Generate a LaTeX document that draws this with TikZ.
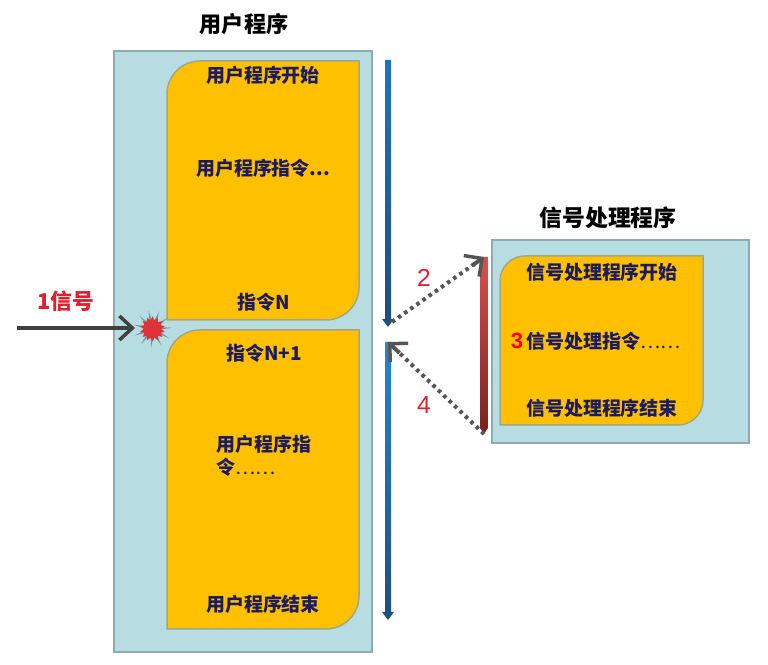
\documentclass[tikz,border=0pt]{standalone}
\usepackage{fontspec}
\usepackage{tkz-euclide}
\usetikzlibrary{arrows.meta,calc,shapes.geometric}
\setmainfont{Liberation Sans}
\newfontfamily\cjk{Noto Sans CJK SC}
\definecolor{panelblue}{HTML}{B7DDE3}
\definecolor{panelline}{HTML}{8FABB2}
\definecolor{progfill}{HTML}{FFC000}
\definecolor{progline}{HTML}{A3A585}
\definecolor{navytext}{HTML}{1B1B5E}
\definecolor{flowgray}{HTML}{555555}
\definecolor{lineblue}{HTML}{1F74B8}
\definecolor{linelight}{HTML}{2486CC}
\definecolor{linedark}{HTML}{1F4E79}
\definecolor{linered}{HTML}{D9504E}
\definecolor{linewine}{HTML}{772222}
\definecolor{labelred}{HTML}{E0202C}
\definecolor{burstred}{HTML}{DE3238}
\definecolor{burstspike}{HTML}{6F98A0}
\tikzset{
  panel/.style={draw=panelline,fill=panelblue,line width=0.012cm},
  progbox/.style={draw=progline,fill=progfill,line width=0.015cm},
  instr/.style={inner sep=0pt,text=navytext,font=\cjk\bfseries\fontsize{5.4}{6.5}\selectfont},
  heading/.style={inner sep=0pt,text=black,font=\cjk\bfseries\fontsize{6.3}{7.5}\selectfont},
  steplabel/.style={inner sep=0pt,text=labelred,font=\fontsize{7}{8}\selectfont},
  flowdots/.style={flowgray,line width=0.04cm,dash pattern=on 0.035cm off 0.04cm},
  flowtip/.style={-{Straight Barb[length=0.13cm,width=0.26cm,line width=0.035cm]},flowgray,line width=0.04cm},
}
\begin{document}
\begin{tikzpicture}[thick]
  \useasboundingbox (0,0) rectangle (7.68,6.65);
  \tkzDefPoints{1.14/6.14/Ua, 3.72/0.13/Ub, 4.92/4.25/Sa, 7.49/2.22/Sb}
  \tkzDefPoints{3.88/6.05/Pa, 3.88/3.38/Pb, 3.88/3.23/Qa, 3.88/0.45/Qb}
  \tkzDefPoints{4.84/4.08/Ra, 4.84/2.31/Rb, 0.17/3.37/In, 1.35/3.37/Hit}
  \draw[panel] (Ua) rectangle (Ub);
  \draw[panel] (Sa) rectangle (Sb);
  % program blocks
  \draw[progbox] (1.67,3.45) [rounded corners=0.33cm] -- (1.67,6.04) [sharp corners] -- (3.59,6.04) [rounded corners=0.33cm] -- (3.59,3.45) [sharp corners] -- cycle;
  \draw[progbox] (1.67,0.36) [rounded corners=0.33cm] -- (1.67,3.35) [sharp corners] -- (3.59,3.35) [rounded corners=0.33cm] -- (3.59,0.36) [sharp corners] -- cycle;
  \draw[progbox] (5.00,2.40) [rounded corners=0.25cm] -- (5.00,4.09) [sharp corners] -- (7.03,4.09) [rounded corners=0.25cm] -- (7.03,2.40) [sharp corners] -- cycle;
  % time lines
  \shade[top color=lineblue,bottom color=linedark] ($(Pa)+(-0.03,0)$) -- ($(Pa)+(0.03,0)$) -- ($(Pb)+(0.03,0.08)$) -- ($(Pb)+(0.06,0.08)$) -- (Pb) -- ($(Pb)+(-0.06,0.08)$) -- ($(Pb)+(-0.03,0.08)$) -- cycle;
  \shade[top color=linelight,bottom color=linedark] ($(Qa)+(-0.03,0)$) -- ($(Qa)+(0.03,0)$) -- ($(Qb)+(0.03,0.08)$) -- ($(Qb)+(0.06,0.08)$) -- (Qb) -- ($(Qb)+(-0.06,0.08)$) -- ($(Qb)+(-0.03,0.08)$) -- cycle;
  \shade[top color=linered,bottom color=linewine] ($(Ra)+(-0.04,0)$) -- ($(Ra)+(0.04,0)$) -- ($(Rb)+(0.04,0.06)$) -- (Rb) -- ($(Rb)+(-0.04,0.06)$) -- cycle;
  \node[fill=burstspike,star,star points=11,star point ratio=3.4,minimum size=0.38cm,inner sep=0pt,rotate=12] (burstout) at (1.525,3.36) {};
  \node[fill=burstred,star,star points=14,star point ratio=1.4,minimum size=0.25cm,inner sep=0pt] (burst) at (1.525,3.36) {};
  \draw[-{Straight Barb[length=0.13cm,width=0.24cm,line width=0.035cm]},black!75,line width=0.045cm] (In) -- (Hit);
  \draw[flowdots] ($(Pb)+(0.04,0.05)$) -- ($(Pb)!0.9!(Ra)$);
  \draw[flowtip] ($(Pb)!0.88!(Ra)$) -- (Ra);
  \draw[flowdots] (Rb) -- ($(Rb)!0.9!(Qa)$);
  \draw[flowtip] ($(Rb)!0.88!(Qa)$) -- (Qa);
  % texts
  \node[heading] (utitle) at (2.44,6.41) {\cjk 用户程序};
  \node[heading,font=\cjk\bfseries\fontsize{6.5}{7.5}\selectfont] (stitle) at (6.08,4.47) {信号处理程序};
  \node[instr] (ustart) at (2.63,5.90) {用户程序开始};
  \node[instr] (uinstr) at (2.63,4.97) {用户程序指令...};
  \node[instr] (instN) at (2.64,3.63) {指令N};
  \node[instr] (instNa) at (2.64,3.12) {指令N+1};
  \node[instr,align=left,anchor=west] (ulater) at (2.15,2.095) {用户程序指\\令{\mdseries ……}};
  \node[instr] (uend) at (2.63,0.61) {用户程序结束};
  \node[instr] (sstart) at (6.02,3.93) {信号处理程序开始};
  \node[instr,anchor=west] (sinstr) at (5.25,3.24) {信号处理指令{\mdseries ……}};
  \node[instr] (send) at (6.02,2.57) {信号处理程序结束};
  \node[steplabel,text=red,font=\bfseries\fontsize{6.3}{7}\selectfont] (three) at (5.17,3.24) {3};
  \node[steplabel,font=\cjk\bfseries\fontsize{6.2}{7}\selectfont] (one) at (0.655,3.64) {1信号};
  \node[steplabel] (two) at (4.24,3.87) {2};
  \node[steplabel] (four) at (4.24,2.60) {4};
\end{tikzpicture}
\end{document}
